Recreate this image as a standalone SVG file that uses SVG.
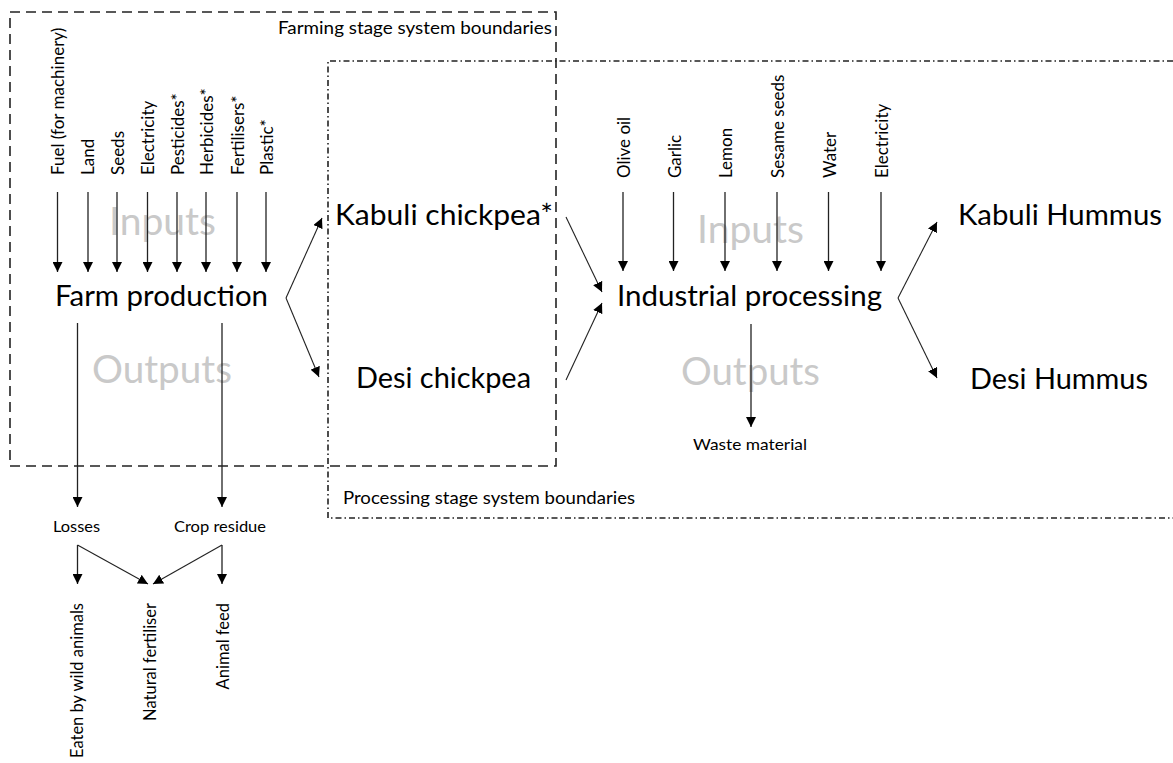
<svg xmlns="http://www.w3.org/2000/svg" width="1173" height="763" viewBox="0 0 1173 763">
<defs>
<marker id="ah" markerUnits="userSpaceOnUse" markerWidth="11" markerHeight="10" refX="10" refY="5" orient="auto" viewBox="0 0 11 10">
<path d="M0,0 L10,5 L0,10 z" fill="#000"/>
</marker>
<style>
text{font-family:Lato,"Open Sans","Liberation Sans",sans-serif;fill:#000}
.big{font-size:28px}
.ghost{font-size:38px;fill:#c9c9c9}
.sm{font-size:16px}
.rt{font-size:17px}
.rb{font-size:16.5px}
.bd{font-size:18px}
.ar{stroke:#222;stroke-width:1.3;fill:none;marker-end:url(#ah)}
.ln{stroke:#222;stroke-width:1.1;fill:none;marker-end:url(#ah)}
.dash{stroke:#222;stroke-width:1.6;fill:none;stroke-dasharray:10 6}
.dd{stroke:#222;stroke-width:1.6;fill:none;stroke-dasharray:6 3 1.5 3}
</style>
</defs>
<rect width="1173" height="763" fill="#fff"/>

<g id="boundaries">
<path class="dash" d="M10,12 L556,12 L556,466 L10,466 Z"/>
<path class="dd" d="M1173,61 L328,61 L328,518 L1173,518"/>
<text class="bd" x="278" y="34" textLength="274" lengthAdjust="spacingAndGlyphs">Farming stage system boundaries</text>
<text class="bd" x="343" y="504" textLength="292" lengthAdjust="spacingAndGlyphs">Processing stage system boundaries</text>
</g>

<g id="ghost-labels">
<text class="ghost" x="109" y="235" textLength="107" lengthAdjust="spacingAndGlyphs">Inputs</text>
<text class="ghost" x="92" y="383" textLength="140" lengthAdjust="spacingAndGlyphs">Outputs</text>
<text class="ghost" x="697" y="243" textLength="107" lengthAdjust="spacingAndGlyphs">Inputs</text>
<text class="ghost" x="681" y="385" textLength="139" lengthAdjust="spacingAndGlyphs">Outputs</text>
</g>

<g id="connectors">
<line class="ar" x1="57.5" y1="192" x2="57.5" y2="272"/>
<line class="ar" x1="88" y1="192" x2="88" y2="272"/>
<line class="ar" x1="117" y1="192" x2="117" y2="272"/>
<line class="ar" x1="147.5" y1="192" x2="147.5" y2="272"/>
<line class="ar" x1="177" y1="192" x2="177" y2="272"/>
<line class="ar" x1="206" y1="192" x2="206" y2="272"/>
<line class="ar" x1="237" y1="192" x2="237" y2="272"/>
<line class="ar" x1="266" y1="192" x2="266" y2="272"/>

<line class="ar" x1="623" y1="192" x2="623" y2="271"/>
<line class="ar" x1="673.5" y1="192" x2="673.5" y2="271"/>
<line class="ar" x1="725" y1="192" x2="725" y2="271"/>
<line class="ar" x1="777" y1="192" x2="777" y2="271"/>
<line class="ar" x1="828.5" y1="192" x2="828.5" y2="271"/>
<line class="ar" x1="881" y1="192" x2="881" y2="271"/>

<line class="ln" x1="286" y1="298" x2="322" y2="218"/>
<line class="ln" x1="286" y1="298" x2="319" y2="377"/>
<line class="ln" x1="566" y1="217" x2="602" y2="292"/>
<line class="ln" x1="566" y1="380" x2="602" y2="303"/>
<line class="ln" x1="898" y1="298" x2="937" y2="222"/>
<line class="ln" x1="898" y1="298" x2="937" y2="378"/>

<line class="ar" x1="751" y1="324" x2="751" y2="427"/>

<line class="ar" x1="77.5" y1="323" x2="77.5" y2="507"/>
<line class="ar" x1="222" y1="323" x2="222" y2="507"/>

<line class="ar" x1="77.5" y1="545" x2="77.5" y2="584"/>
<line class="ln" x1="77.5" y1="545" x2="148" y2="584"/>
<line class="ln" x1="222" y1="545" x2="153" y2="584"/>
<line class="ar" x1="222" y1="545" x2="222" y2="584"/>
</g>

<g id="farm-inputs">
<text class="rt" transform="translate(63.5,175) rotate(-90)">Fuel (for machinery)</text>
<text class="rt" transform="translate(94,175) rotate(-90)">Land</text>
<text class="rt" transform="translate(123.5,175) rotate(-90)">Seeds</text>
<text class="rt" transform="translate(154,175) rotate(-90)">Electricity</text>
<text class="rt" transform="translate(183.5,175) rotate(-90)">Pesticides*</text>
<text class="rt" transform="translate(212.5,175) rotate(-90)">Herbicides*</text>
<text class="rt" transform="translate(243.5,175) rotate(-90)">Fertilisers*</text>
<text class="rt" transform="translate(272.5,175) rotate(-90)">Plastic*</text>
</g>

<g id="farm-production">
<text class="big" x="55" y="306" textLength="213" lengthAdjust="spacingAndGlyphs">Farm production</text>
</g>

<g id="kabuli-chickpea">
<text class="big" x="335" y="225" textLength="218" lengthAdjust="spacingAndGlyphs">Kabuli chickpea*</text>
</g>

<g id="desi-chickpea">
<text class="big" x="356" y="388" textLength="175" lengthAdjust="spacingAndGlyphs">Desi chickpea</text>
</g>

<g id="processing-inputs">
<text class="rt" transform="translate(630,178) rotate(-90)">Olive oil</text>
<text class="rt" transform="translate(680.5,178) rotate(-90)">Garlic</text>
<text class="rt" transform="translate(732,178) rotate(-90)">Lemon</text>
<text class="rt" transform="translate(784,178) rotate(-90)">Sesame seeds</text>
<text class="rt" transform="translate(835.5,178) rotate(-90)">Water</text>
<text class="rt" transform="translate(888,178) rotate(-90)">Electricity</text>
</g>

<g id="industrial-processing">
<text class="big" x="617" y="306" textLength="265" lengthAdjust="spacingAndGlyphs">Industrial processing</text>
</g>

<g id="waste-material">
<text class="sm" x="693" y="450" textLength="114" lengthAdjust="spacingAndGlyphs">Waste material</text>
</g>

<g id="kabuli-hummus">
<text class="big" x="958" y="225" textLength="204" lengthAdjust="spacingAndGlyphs">Kabuli Hummus</text>
</g>

<g id="desi-hummus">
<text class="big" x="970" y="389" textLength="178" lengthAdjust="spacingAndGlyphs">Desi Hummus</text>
</g>

<g id="losses">
<text class="sm" x="53" y="532" textLength="47" lengthAdjust="spacingAndGlyphs">Losses</text>
</g>

<g id="crop-residue">
<text class="sm" x="174" y="532" textLength="92" lengthAdjust="spacingAndGlyphs">Crop residue</text>
</g>

<g id="eaten-by-wild-animals">
<text class="rb" text-anchor="end" transform="translate(83,603) rotate(-90)">Eaten by wild animals</text>
</g>

<g id="natural-fertiliser">
<text class="rb" text-anchor="end" transform="translate(156,603) rotate(-90)">Natural fertiliser</text>
</g>

<g id="animal-feed">
<text class="rb" text-anchor="end" transform="translate(229,603) rotate(-90)">Animal feed</text>
</g>
</svg>
